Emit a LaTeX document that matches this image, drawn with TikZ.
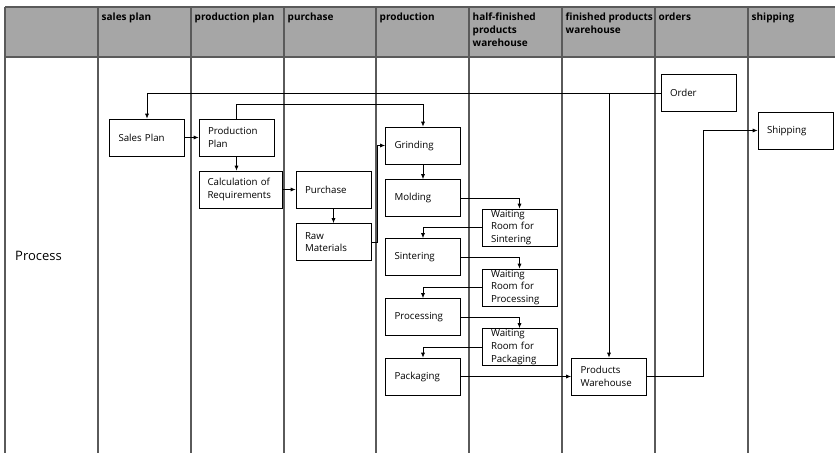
\documentclass[tikz,border=0pt]{standalone}
\usepackage{fontspec}
\setmainfont{Open Sans}
\usepackage{tikz}
\usetikzlibrary{positioning, arrows.meta, calc}

\definecolor{headgray}{HTML}{A6A6A6}
\definecolor{lanegray}{HTML}{5A5A5A}

\tikzset{
  lane/.style={draw=lanegray, line width=1.3pt},
  head/.style={anchor=north west, font=\fontsize{10}{13}\selectfont\bfseries, align=left, inner sep=0pt},
  box/.style={draw, line width=0.7pt, minimum width=75pt, minimum height=37pt, text width=57pt,
              inner xsep=9pt, inner ysep=0pt, align=left, font=\fontsize{9.7}{12.7}\selectfont},
  arr/.style={-{Latex[length=5pt,width=4pt]}, line width=0.7pt}
}

\begin{document}
\begin{tikzpicture}[x=1pt, y=-1pt]
                  \useasboundingbox (0,0) rectangle (835,453);

                  % Lanes
                  \fill[headgray] (5,7) rectangle (835,57);
                  \draw[lane] (5,7) -- (835,7);
                  \draw[lane] (5,57) -- (835,57);
                  \foreach \x in {5,98,191,284,376,469,562,655,748}
                  \draw[lane] (\x,7) -- (\x,453);

                  % Lane titles
                  \foreach \x/\t in {98/sales plan, 191/production plan, 284/purchase, 376/production,
                                     469/{half-finished\\products\\warehouse}, 562/{finished products\\warehouse},
                                     655/orders, 748/shipping}
                  \node[head] (title\x) at (\x+3.5,12.5) {\t};
                  \node[anchor=west, font=\fontsize{13}{15}\selectfont, inner sep=0pt] (process) at (15,256) {Process};

                  % Nodes
                  \node[box] (sales) at (147,137.5) {Sales Plan};
                  \node[box] (prodplan) at (236.5,137.5) {Production\\Plan};
                  \node[box, minimum width=83pt, text width=66pt, inner xsep=8.5pt] (calc) at (240.5,189.5) {Calculation of\\Requirements};
                  \node[box] (purchase) at (333.5,189.5) {Purchase};
                  \node[box] (raw) at (333.5,242) {Raw\\Materials};
                  \foreach \n/\y/\t in {grinding/145.5/Grinding, molding/198/Molding, sintering/257/Sintering,
                                        processing/317/Processing, packaging/376.5/Packaging}
                  \node[box] (\n) at (423,\y) {\t};
                  \foreach \n/\y/\t in {waitsinter/227.5/Sintering, waitproc/287.5/Processing, waitpack/347/Packaging}
                  \node[box] (\n) at (519.5,\y) {Waiting\\Room for\\\t};
                  \node[box] (store) at (609,376.5) {Products\\Warehouse};
                  \node[box] (order) at (698.5,93) {Order};
                  \node[box] (shipping) at (795.5,130.5) {Shipping};

                  % Arrows
                  \draw[arr] (order.west) -| (sales.north);
                  \draw[arr] (order.west) -| (store.north);
                  \draw[arr] (sales) -- (prodplan);
                  \draw[arr] (prodplan.north) -- ++(0,-14) -| (grinding.north);
                  \draw[arr] (prodplan.south) -- (prodplan.south |- calc.north);
                  \draw[arr] (calc) -- (purchase);
                  \draw[arr] (purchase) -- (raw);
                  \draw[arr] (raw.east) -- ++(6,0) |- (grinding.west);
                  \draw[arr] (grinding) -- (molding);
                  \foreach \a/\w/\b in {molding/waitsinter/sintering, sintering/waitproc/processing, processing/waitpack/packaging}
                  {
                  \draw[arr] (\a.east) -| (\w.north);
                  \draw[arr] (\w.west) -| (\b.north);
                  }
                  \draw[arr] (packaging) -- (store);
                  \draw[arr] (store.east) -- ++(56,0) |- (shipping.west);
              \end{tikzpicture}
\end{document}
